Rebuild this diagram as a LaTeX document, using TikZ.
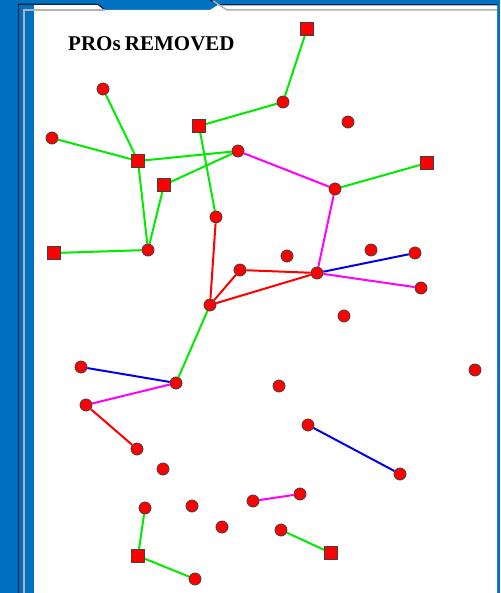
\documentclass[tikz,border=0pt]{standalone}
\usepackage{fontspec}
\setmainfont{Liberation Serif}
\definecolor{bgblue}{RGB}{0,112,192}
\definecolor{darkline}{RGB}{12,38,70}
\definecolor{grayline}{RGB}{178,178,178}
\definecolor{ngreen}{RGB}{0,235,0}
\definecolor{nmag}{RGB}{255,0,255}
\definecolor{nred}{RGB}{255,0,0}
\definecolor{nblue}{RGB}{0,0,240}
\pgfdeclarelayer{frame}
\pgfdeclarelayer{edges}
\pgfsetlayers{frame,edges,main}
\tikzset{
  sq/.style={rectangle,draw=black!75,fill=red,line width=0.8pt,minimum size=12.8pt,inner sep=0pt},
  ci/.style={circle,draw=black!75,fill=red,line width=0.8pt,minimum size=12pt,inner sep=0pt},
  eg/.style={draw=ngreen,line width=2pt},
  em/.style={draw=nmag,line width=2pt},
  er/.style={draw=nred,line width=2pt},
  eb/.style={draw=nblue,line width=2pt},
}
\begin{document}
\begin{tikzpicture}[x=1pt,y=-1pt]
\useasboundingbox (0,0) rectangle (500,593);
\begin{pgfonlayer}{frame}
\fill[bgblue] (0,0) rectangle (500,593);
\fill[white] (34,5) -- (98,5) -- (105,10) -- (210,10) -- (218,5) -- (497,5) -- (497,593) -- (34,593) -- cycle;
\draw[darkline,line width=1.3pt] (18.5,593) -- (18.5,4.3) -- (98,4.3) -- (105,10);
\draw[darkline,line width=1.3pt] (210,0) -- (219,4.8) -- (497,4.8);
\draw[grayline,line width=1.5pt] (24,593) -- (24,10) -- (105,10);
\draw[grayline,line width=1.5pt] (213,1) -- (227,10) -- (497,10);
\end{pgfonlayer}

\node[font=\bfseries\fontsize{21}{21}\selectfont,anchor=base west,inner sep=0pt] (title) at (68,50.5) {PROs\hspace{-1pt} REMOVED};

% squares
\node[sq] (s1) at (307,29) {};
\node[sq] (s2) at (199,126) {};
\node[sq] (s3) at (138,161) {};
\node[sq] (s4) at (164,185) {};
\node[sq] (s5) at (427,163) {};
\node[sq] (s6) at (54,253) {};
\node[sq] (s7) at (138,556) {};
\node[sq] (s8) at (331,553) {};
% circles
\node[ci] (c1) at (103,89) {};
\node[ci] (c2) at (283,102) {};
\node[ci] (c3) at (348,122) {};
\node[ci] (c4) at (52,138) {};
\node[ci] (c5) at (238,151) {};
\node[ci] (c6) at (335,189) {};
\node[ci] (c7) at (216,217) {};
\node[ci] (c8) at (148,250) {};
\node[ci] (c9) at (287,256) {};
\node[ci] (c10) at (371,250) {};
\node[ci] (c11) at (415,253) {};
\node[ci] (c12) at (240,270) {};
\node[ci] (c13) at (317,273) {};
\node[ci] (c14) at (421,288) {};
\node[ci] (c15) at (210,305) {};
\node[ci] (c16) at (344,316) {};
\node[ci] (c17) at (81,367) {};
\node[ci] (c18) at (176,383) {};
\node[ci] (c19) at (279,386) {};
\node[ci] (c20) at (475,370) {};
\node[ci] (c21) at (86,405) {};
\node[ci] (c22) at (308,425) {};
\node[ci] (c23) at (137,449) {};
\node[ci] (c24) at (400,474) {};
\node[ci] (c25) at (163,469) {};
\node[ci] (c26) at (145,508) {};
\node[ci] (c27) at (192,506) {};
\node[ci] (c28) at (253,501) {};
\node[ci] (c29) at (300,494) {};
\node[ci] (c30) at (222,527) {};
\node[ci] (c31) at (281,530) {};
\node[ci] (c32) at (195,579) {};

\begin{pgfonlayer}{edges}
% green
\draw[eg] (s1) -- (c2);
\draw[eg] (c2) -- (s2);
\draw[eg] (s2) -- (c7);
\draw[eg] (c1) -- (s3);
\draw[eg] (c4) -- (s3);
\draw[eg] (s3) -- (c5);
\draw[eg] (s4) -- (c5);
\draw[eg] (s3) -- (c8);
\draw[eg] (s4) -- (c8);
\draw[eg] (s6) -- (c8);
\draw[eg] (c6) -- (s5);
\draw[eg] (c15) -- (c18);
\draw[eg] (c26) -- (s7);
\draw[eg] (s7) -- (c32);
\draw[eg] (c31) -- (s8);
% magenta
\draw[em] (c5) -- (c6);
\draw[em] (c6) -- (c13);
\draw[em] (c13) -- (c14);
\draw[em] (c18) -- (c21);
\draw[em] (c28) -- (c29);
% red
\draw[er] (c7) -- (c15);
\draw[er] (c15) -- (c12);
\draw[er] (c12) -- (c13);
\draw[er] (c15) -- (c13);
\draw[er] (c21) -- (c23);
% blue
\draw[eb] (c13) -- (c11);
\draw[eb] (c17) -- (c18);
\draw[eb] (c22) -- (c24);
\end{pgfonlayer}
\end{tikzpicture}
\end{document}
